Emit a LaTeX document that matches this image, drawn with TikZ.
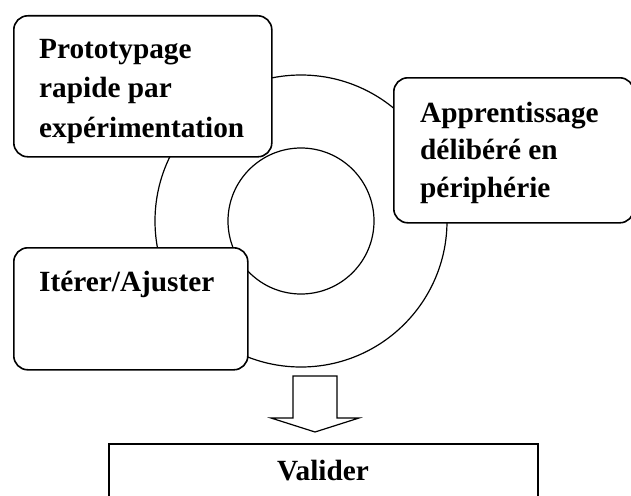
\documentclass[tikz,border=0pt]{standalone}
\usepackage{fontspec}
\setmainfont{Liberation Serif}
\begin{document}
\begin{tikzpicture}[x=1pt, y=-1pt,
	box/.style={draw, rounded corners=14pt, line width=1.6pt, fill=white, anchor=north west, inner sep=0pt},
	ring/.style={circle, draw, line width=1.2pt, inner sep=0pt},
	label/.style={anchor=base west, align=left, inner sep=0pt, font=\bfseries\fontsize{29.3}{39.5}\selectfont}]
	\useasboundingbox (0, 0) rectangle (631, 495);
	\clip (0, 0) rectangle (631, 495);

	\node[ring, minimum size=292pt] (outer) at (301, 221) {};
	\node[ring, minimum size=146pt] (inner) at (301, 221) {};

	% the base of a multi-line label is its last line
	\node[box, minimum width=258pt, minimum height=141pt] (proto) at (13, 15) {};
	\node[label] (proto-text) at (39, 137) {Prototypage\\rapide par\\expérimentation};

	\node[box, minimum width=240pt, minimum height=145pt] (learn) at (393, 77) {};
	\node[label, font=\bfseries\fontsize{29.3}{37.5}\selectfont] (learn-text) at (420, 197) {Apprentissage\\délibéré en\\périphérie};

	\node[box, minimum width=234pt, minimum height=122pt] (iterate) at (13, 247) {};
	\node[label] (iterate-text) at (39, 291) {Itérer/Ajuster};

	\coordinate (arrow-top) at (315, 376);
	\draw[line width=1.2pt, fill=white] ([xshift=-22pt]arrow-top) -- ([xshift=22pt]arrow-top)
		-- ++(0, 42) -- ++(22, 0) -- (315, 432) -- (271, 418) -- ++(22, 0) -- cycle;

	\node[box, rounded corners=0pt, minimum width=429pt, minimum height=70pt] (validate) at (108, 443) {};
	\node[label, anchor=base] (validate-text) at (323, 480) {Valider};
\end{tikzpicture}
\end{document}
